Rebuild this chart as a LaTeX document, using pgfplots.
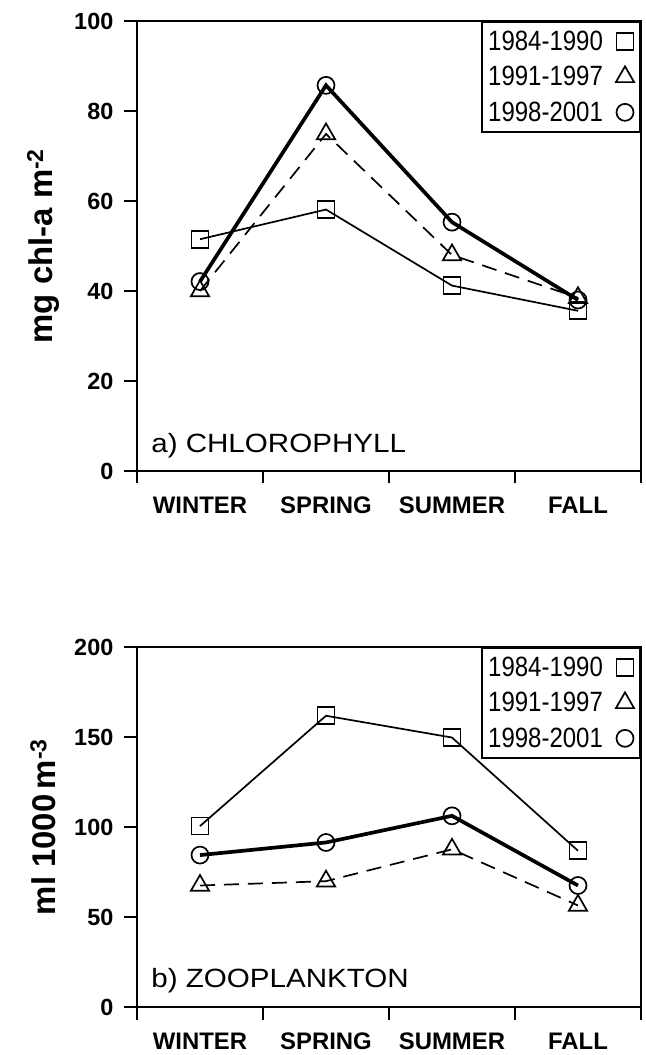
\documentclass[border=0pt]{standalone}
\usepackage{fontspec}
\setmainfont{Liberation Sans}
\newfontfamily\condfont[FakeStretch=0.86]{Liberation Sans}
\newfontfamily\widefont[FakeStretch=1.12]{Liberation Sans}
\usepackage{pgfplots}
\pgfplotsset{compat=1.18}

\pgfplotsset{
  panel/.style={
    scale only axis, width=504bp,
    xmin=-0.5, xmax=3.5,
    axis line style={line width=2.4bp, black},
    tick align=outside,
    major tick length=12.5bp,
    xtick={-0.5,0.5,1.5,2.5,3.5},
    x tick label as interval,
    xticklabels={WINTER,SPRING,SUMMER,FALL},
    ytick pos=left, xtick pos=bottom,
    tick style={line width=1.9bp, black},
    yticklabel style={font=\bfseries\fontsize{23.5}{23.5}\selectfont, anchor=east, inner sep=0pt, xshift=-11bp},
    xticklabel style={font=\bfseries\fontsize{24}{24}\selectfont, anchor=base, inner sep=0pt, yshift=-29.9bp},
    /pgf/number format/assume math mode=true,
    every axis y label/.style={at={(axis description cs:-0.1865,0.5)}, rotate=90, anchor=center,
      font=\bfseries\fontsize{33}{33}\selectfont},
    legend style={at={(rel axis cs:1,1)}, anchor=north east, draw=black, line width=1.8bp,
      fill=white, font=\condfont\fontsize{28}{28}\selectfont,
      inner xsep=6bp, inner ysep=9bp, row sep=14.5bp, column sep=13bp,
      nodes={inner sep=0pt}},
    legend cell align=left,
    legend plot pos=right,
    legend image code/.code={\draw[##1] plot[only marks] coordinates {(0bp,0bp)};},
  },
  s1/.style={black, line width=1.7bp, mark=square, mark size=8.5bp, mark options={solid, line width=1.7bp, fill=none}},
  s2/.style={black, line width=1.7bp, dash pattern=on 15bp off 9bp, mark=triangle, mark size=10.5bp, mark options={solid, line width=1.7bp, fill=none}},
  s3/.style={black, line width=3.7bp, mark=o, mark size=8.5bp, mark options={solid, line width=1.7bp, fill=none}},
}

\begin{document}
\begin{tikzpicture}
\path[use as bounding box] (0,0) rectangle (646bp,1055bp);

\begin{axis}[panel, at={(137bp,584bp)}, anchor=south west, height=450bp,
  ymin=0, ymax=100, ytick={0,20,40,60,80,100},
  ylabel={mg chl-a m\textsuperscript{-2}}]
\addplot[s1] coordinates {(0,51.5) (1,58.1) (2,41.2) (3,35.6)};
\addlegendentry{1984-1990}
\addplot[s2] coordinates {(0,40.0) (1,74.9) (2,48.0) (3,38.5)};
\addlegendentry{1991-1997}
\addplot[s3] coordinates {(0,42.1) (1,85.7) (2,55.3) (3,38.0)};
\addlegendentry{1998-2001}
\node[anchor=base west, font=\widefont\fontsize{26.5}{26.5}\selectfont, inner sep=0pt] at (rel axis cs:0.028,0.042) {a) CHLOROPHYLL};
\end{axis}

\begin{axis}[panel, at={(137bp,48bp)}, anchor=south west, height=360bp,
  ymin=0, ymax=200, ytick={0,50,100,150,200},
  ylabel={ml 1000\,m\textsuperscript{-3}}]
\addplot[s1] coordinates {(0,100.5) (1,161.8) (2,149.7) (3,86.8)};
\addlegendentry{1984-1990}
\addplot[s2] coordinates {(0,67.5) (1,69.9) (2,87.6) (3,56.4)};
\addlegendentry{1991-1997}
\addplot[s3] coordinates {(0,84.4) (1,91.4) (2,106.2) (3,67.5)};
\addlegendentry{1998-2001}
\node[anchor=base west, font=\widefont\fontsize{26.5}{26.5}\selectfont, inner sep=0pt] at (rel axis cs:0.028,0.053) {b) ZOOPLANKTON};
\end{axis}
\end{tikzpicture}
\end{document}
